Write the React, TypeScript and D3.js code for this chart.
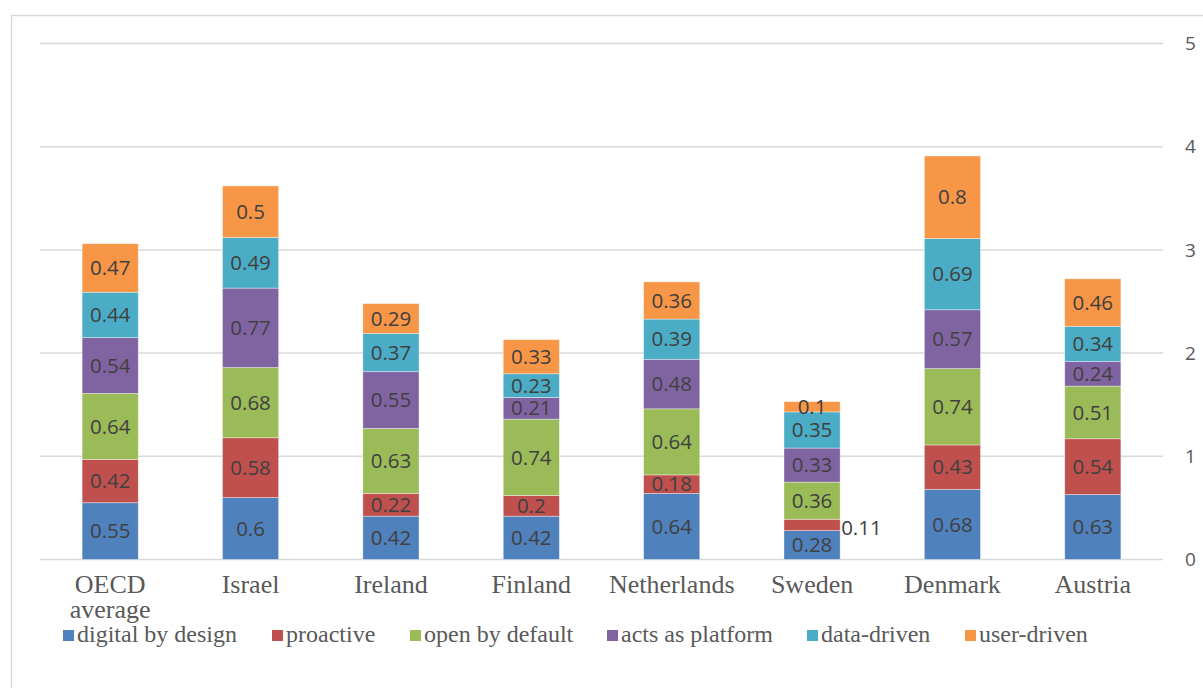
import React from "react";
import * as d3 from "d3";

// Countries on the x axis
const categories = ["OECD average", "Israel", "Ireland", "Finland", "Netherlands", "Sweden", "Denmark", "Austria"];

// Dimension names, stacked bottom to top
const seriesNames = ["digital by design", "proactive", "open by default", "acts as platform", "data-driven", "user-driven"];
const seriesColors = ["#4F81BD", "#C0504D", "#9BBB59", "#8064A2", "#4BACC6", "#F79646"];

// Score of each dimension per country (same order as categories)
const digitalByDesign = [0.55, 0.6, 0.42, 0.42, 0.64, 0.28, 0.68, 0.63];
const proactive = [0.42, 0.58, 0.22, 0.2, 0.18, 0.11, 0.43, 0.54];
const openByDefault = [0.64, 0.68, 0.63, 0.74, 0.64, 0.36, 0.74, 0.51];
const actsAsPlatform = [0.54, 0.77, 0.55, 0.21, 0.48, 0.33, 0.57, 0.24];
const dataDriven = [0.44, 0.49, 0.37, 0.23, 0.39, 0.35, 0.69, 0.34];
const userDriven = [0.47, 0.5, 0.29, 0.33, 0.36, 0.1, 0.8, 0.46];

const yTicks = [0, 1, 2, 3, 4, 5];

const W = 1203;
const H = 688;
const plot = { left: 40, right: 1163, top: 43.5, bottom: 559.5 };

const SANS = "'Open Sans', 'Liberation Sans', sans-serif";
const SERIF = "'Liberation Serif', 'DejaVu Serif', serif";

export default function App() {
  const seriesValues = [digitalByDesign, proactive, openByDefault, actsAsPlatform, dataDriven, userDriven];
  const rows = categories.map((c, i) => {
    const r: Record<string, any> = { category: c };
    seriesNames.forEach((s, j) => (r[s] = seriesValues[j][i]));
    return r;
  });
  const stacked = d3.stack<any>().keys(seriesNames)(rows);

  const x = d3.scaleBand().domain(categories).range([plot.left, plot.right]).paddingInner(0.6).paddingOuter(0.3);
  const y = d3.scaleLinear().domain([0, 5]).range([plot.bottom, plot.top]);

  return (
    <svg width={W} height={H} style={{ position: "absolute", left: 0, top: 0, background: "#fff" }}>
      {/* chart frame */}
      <rect x={11.5} y={15.5} width={1300} height={800} fill="none" stroke="#d9d9d9" strokeWidth={1.5} />

      {/* gridlines */}
      {yTicks.map((t) => (
        <line key={t} x1={plot.left} x2={plot.right} y1={y(t)} y2={y(t)} stroke="#d9d9d9" strokeWidth={1.5} />
      ))}
      {/* right axis labels */}
      {yTicks.map((t) => (
        <text key={t} x={1185} y={y(t)} dy="0.35em" fontFamily={SANS} fontSize={19} fill="#595959">
          {t}
        </text>
      ))}

      {/* stacked bars */}
      {stacked.map((layer, j) => (
        <g key={layer.key} fill={seriesColors[j]}>
          {layer.map((d, i) => (
            <rect
              key={i}
              x={x(categories[i])}
              y={y(d[1])}
              width={x.bandwidth()}
              height={y(d[0]) - y(d[1])}
              stroke="#ffffff"
              strokeOpacity={0.5}
              strokeWidth={0.75}
            />
          ))}
        </g>
      ))}

      {/* value labels */}
      {stacked.map((layer, j) =>
        layer.map((d, i) => {
          const v = seriesValues[j][i];
          const thin = categories[i] === "Sweden" && seriesNames[j] === "proactive";
          const cx = (x(categories[i]) as number) + x.bandwidth() / 2;
          const cy = y((d[0] + d[1]) / 2);
          return (
            <text
              key={`${j}-${i}`}
              x={thin ? (x(categories[i]) as number) + x.bandwidth() + 1 : cx}
              y={thin ? cy + 3 : cy}
              dy="0.35em"
              textAnchor={thin ? "start" : "middle"}
              fontFamily={SANS}
              fontSize={20.5}
              fill="#404040"
            >
              {v}
            </text>
          );
        })
      )}

      {/* category labels */}
      {categories.map((c) => {
        const cx = (x(c) as number) + x.bandwidth() / 2;
        const lines = c === "OECD average" ? ["OECD", "average"] : [c];
        return (
          <text key={c} x={cx} y={593} textAnchor="middle" fontFamily={SERIF} fontSize={26} fill="#595959">
            {lines.map((l, k) => (
              <tspan key={k} x={cx} dy={k === 0 ? 0 : 25}>
                {l}
              </tspan>
            ))}
          </text>
        );
      })}

      {/* legend */}
      {(() => {
        const starts = [63, 272, 410, 607, 807, 965];
        return seriesNames.map((s, j) => (
          <g key={s} transform={`translate(${starts[j]},0)`}>
            <rect x={0} y={630} width={11} height={11} fill={seriesColors[j]} />
            <text x={14} y={642} fontFamily={SERIF} fontSize={24} fill="#595959">
              {s}
            </text>
          </g>
        ));
      })()}
    </svg>
  );
}
